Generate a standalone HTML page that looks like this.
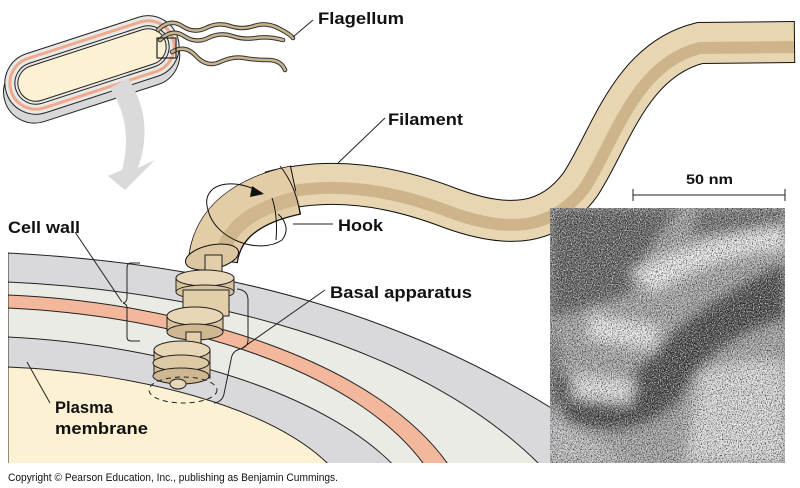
<!DOCTYPE html>
<html><head><meta charset="utf-8"><style>
html,body{margin:0;padding:0;background:#fff;width:800px;height:488px;overflow:hidden}
svg{display:block}
text{font-family:"Liberation Sans",sans-serif;font-weight:bold;fill:#111}
</style></head><body>
<svg width="800" height="488" viewBox="0 0 800 488" xmlns="http://www.w3.org/2000/svg">
<defs>
<clipPath id="cl"><rect x="8" y="0" width="560" height="463"/></clipPath>
<filter id="noise" x="0" y="0" width="100%" height="100%">
<feTurbulence type="fractalNoise" baseFrequency="0.8" numOctaves="2" seed="3" result="n"/>
<feColorMatrix type="matrix" values="0 0 0 0 0  0 0 0 0 0  0 0 0 0 0  2.2 0 0 0 -0.95" />
</filter>
<filter id="noisew" x="0" y="0" width="100%" height="100%">
<feTurbulence type="fractalNoise" baseFrequency="0.85" numOctaves="2" seed="9" result="n"/>
<feColorMatrix type="matrix" values="0 0 0 0 1  0 0 0 0 1  0 0 0 0 1  2.2 0 0 0 -0.95" />
</filter>
<filter id="bl"><feGaussianBlur stdDeviation="6"/></filter>
</defs>

<!-- cell layers -->
<g clip-path="url(#cl)" stroke="#222" stroke-width="1">
<path d="M8 253 C200 263 430 305 640 470 L8 470Z" fill="#d9d9db"/>
<path d="M8 282 C190 290 420 340 545 470 L8 470Z" fill="#ebebe6"/>
<path d="M8 295 C180 302 380 360 452 470 L8 470Z" fill="#f3b89b"/>
<path d="M8 308 C180 316 360 370 428 470 L8 470Z" fill="#ebebe6"/>
<path d="M8 337 C170 345 330 395 398 470 L8 470Z" fill="#d9d9db"/>
<path d="M8 367 C130 372 275 405 334 470 L8 470Z" fill="#fdf1d3"/>
</g>

<!-- bacterium -->
<g transform="rotate(-18 92 65)">
<rect x="-2" y="42" width="182" height="62" rx="31" fill="#d8d8d8" stroke="#222" stroke-width="1"/>
<rect x="2" y="34" width="180" height="62" rx="31" fill="#e8e8e6" stroke="#222" stroke-width="1"/>
<rect x="7" y="39" width="170" height="52" rx="26" fill="none" stroke="#f0a98a" stroke-width="3"/>
<rect x="12" y="44" width="160" height="42" rx="21" fill="#e8e8e6" stroke="#222" stroke-width="1"/>
<rect x="15" y="47" width="154" height="36" rx="18" fill="#fdf1d3" stroke="#222" stroke-width="1"/>
</g>
<g fill="none" stroke-linecap="round">
<g stroke="#333" stroke-width="4.5">
<path d="M158 30 Q170 18 182 26 T206 28 T230 26 T254 26 T278 28 T293 38"/>
<path d="M160 40 Q172 28 184 36 T208 38 T232 36 T256 38 T283 40"/>
<path d="M172 52 Q185 44 196 56 T220 62 T244 58 T268 60 T285 70"/>
</g>
<g stroke="#c9b38c" stroke-width="2.5">
<path d="M158 30 Q170 18 182 26 T206 28 T230 26 T254 26 T278 28 T293 38"/>
<path d="M160 40 Q172 28 184 36 T208 38 T232 36 T256 38 T283 40"/>
<path d="M172 52 Q185 44 196 56 T220 62 T244 58 T268 60 T285 70"/>
</g>
</g>
<rect x="157" y="38" width="19" height="20" fill="none" stroke="#222" stroke-width="1.2"/>
<line x1="293" y1="37" x2="313" y2="20" stroke="#222" stroke-width="1"/>

<!-- gray arrow -->
<path d="M128 78 Q155 120 138 168 L155 160 L125 190 L108 176 L122 170 Q134 125 110 88Z" fill="#dadada"/>

<!-- filament -->
<g fill="none">
<path d="M270 192 C330 176 390 185 450 208 C510 230 550 225 580 185 C610 140 630 60 700 43 L795 42" stroke="#111" stroke-width="42"/>
<path d="M270 192 C330 176 390 185 450 208 C510 230 550 225 580 185 C610 140 630 60 700 43 L794 42" stroke="#e8d6b2" stroke-width="40"/>
<path d="M270 196 C330 180 390 189 450 212 C510 234 552 229 584 189 C614 144 634 64 700 48 L794 47" stroke="#cdb48b" stroke-width="12"/>
</g>
<!-- hook -->
<g fill="none">
<path d="M213 260 Q220 206 296 190" stroke="#111" stroke-width="50"/>
<path d="M213 259 Q220 206 295 190" stroke="#e2cda6" stroke-width="48"/>
<path d="M222 258 Q228 214 298 198" stroke="#cfb68d" stroke-width="14"/>
</g>
<path d="M280 166 Q296 186 300 214" fill="none" stroke="#111" stroke-width="1"/>
<path d="M272 198 Q278 215 276 240" fill="none" stroke="#111" stroke-width="1"/>
<ellipse cx="212" cy="257" rx="27" ry="12" transform="rotate(-12 212 257)" fill="#dcc7a0" stroke="#111" stroke-width="1"/>
<path d="M262 193 C230 175 200 185 208 210 C215 240 260 255 282 240 C290 230 285 220 278 214" fill="none" stroke="#111" stroke-width="1"/>
<path d="M252 186 L264 194 L250 197Z" fill="#111"/>

<!-- basal apparatus -->
<g stroke="#222" stroke-width="1">
<rect x="205" y="255" width="17" height="18" fill="#e2cfa9"/>
<rect x="176" y="278" width="58" height="14" fill="#d8c39c"/>
<ellipse cx="205" cy="278" rx="29" ry="8" fill="#e8d7b6"/>
<ellipse cx="205" cy="292" rx="29" ry="7" fill="#d8c39c"/>
<rect x="183" y="290" width="46" height="26" fill="#e2cfa9"/>
<rect x="167" y="316" width="56" height="16" fill="#d8c39c"/>
<ellipse cx="195" cy="316" rx="28" ry="9" fill="#e8d7b6"/>
<ellipse cx="195" cy="332" rx="28" ry="8" fill="#cfb88f"/>
<rect x="186" y="332" width="15" height="18" fill="#e2cfa9"/>
<rect x="154" y="350" width="56" height="28" fill="#d8c39c"/>
<ellipse cx="182" cy="350" rx="28" ry="9" fill="#e8d7b6"/>
<ellipse cx="181" cy="363" rx="28" ry="8" fill="#ddc9a3"/>
<ellipse cx="181" cy="376" rx="28" ry="8" fill="#cfb88f"/>
<ellipse cx="178" cy="384" rx="8" ry="5" fill="#e8d7b6"/>
</g>
<ellipse cx="183" cy="390" rx="34" ry="13" fill="none" stroke="#222" stroke-width="1" stroke-dasharray="5 4"/>

<!-- brackets and leaders -->
<g fill="none" stroke="#222" stroke-width="1">
<path d="M140 263 L131 263 Q127 263 127 268 L127 298 Q127 302 123 303 Q127 304 127 308 L127 337 Q127 341 131 341 L140 341"/>
<path d="M237 289 Q248 290 248 300 L248 340 Q248 347 240 349 Q232 351 231 360 L224 394 Q222 402 214 403"/>
<line x1="75" y1="232" x2="122" y2="302"/>
<line x1="325" y1="290" x2="241" y2="349"/>
<line x1="27" y1="362" x2="50" y2="403"/>
<line x1="338" y1="163" x2="385" y2="118"/>
<line x1="293" y1="224" x2="333" y2="224"/>
<line x1="633" y1="195" x2="785" y2="195"/>
<line x1="633" y1="189" x2="633" y2="201"/>
<line x1="785" y1="189" x2="785" y2="201"/>
</g>

<!-- micrograph -->
<svg x="550" y="208" width="235" height="255" viewBox="0 0 235 255">
<rect width="235" height="255" fill="#a4a4a4"/>
<g filter="url(#bl)">
<path d="M0 0 L130 0 Q95 40 80 85 Q40 100 0 110Z" fill="#5a5a5a"/>
<path d="M150 0 L235 0 L235 20 Q180 25 140 30Z" fill="#6a6a6a"/>
<path d="M5 165 Q60 195 100 150 Q140 100 235 55 L235 110 Q160 130 130 190 Q90 235 15 215Z" fill="#404040"/>
<path d="M0 120 Q15 150 5 200 L0 200Z" fill="#555"/>
<path d="M80 65 Q140 30 235 18 L235 42 Q170 45 105 85Z" fill="#f2f2f2"/>
<path d="M40 105 L110 118 L105 142 L38 132Z" fill="#efefef"/>
<path d="M25 165 L85 172 L80 196 L22 190Z" fill="#e8e8e8"/>
<path d="M150 165 Q200 145 235 155 L235 255 L135 255Z" fill="#e0e0e0"/>
<path d="M0 205 Q40 230 80 255 L0 255Z" fill="#c4c4c4"/>
</g>
<rect width="235" height="255" filter="url(#noise)"/>
<rect width="235" height="255" filter="url(#noisew)"/>
</svg>

<!-- labels -->
<text x="318" y="24" font-size="17" textLength="86" lengthAdjust="spacingAndGlyphs">Flagellum</text>
<text x="388" y="125" font-size="17" textLength="75" lengthAdjust="spacingAndGlyphs">Filament</text>
<text x="338" y="231" font-size="17" textLength="45" lengthAdjust="spacingAndGlyphs">Hook</text>
<text x="330" y="298" font-size="17" textLength="142" lengthAdjust="spacingAndGlyphs">Basal apparatus</text>
<text x="8" y="233" font-size="17" textLength="72" lengthAdjust="spacingAndGlyphs">Cell wall</text>
<text x="55" y="413" font-size="17" textLength="58" lengthAdjust="spacingAndGlyphs">Plasma</text>
<text x="55" y="434" font-size="17" textLength="93" lengthAdjust="spacingAndGlyphs">membrane</text>
<text x="686" y="184" font-size="14" textLength="47" lengthAdjust="spacingAndGlyphs">50 nm</text>
<text x="8" y="481" font-size="11" style="font-weight:normal" textLength="330" lengthAdjust="spacingAndGlyphs">Copyright © Pearson Education, Inc., publishing as Benjamin Cummings.</text>
</svg>
</body></html>
